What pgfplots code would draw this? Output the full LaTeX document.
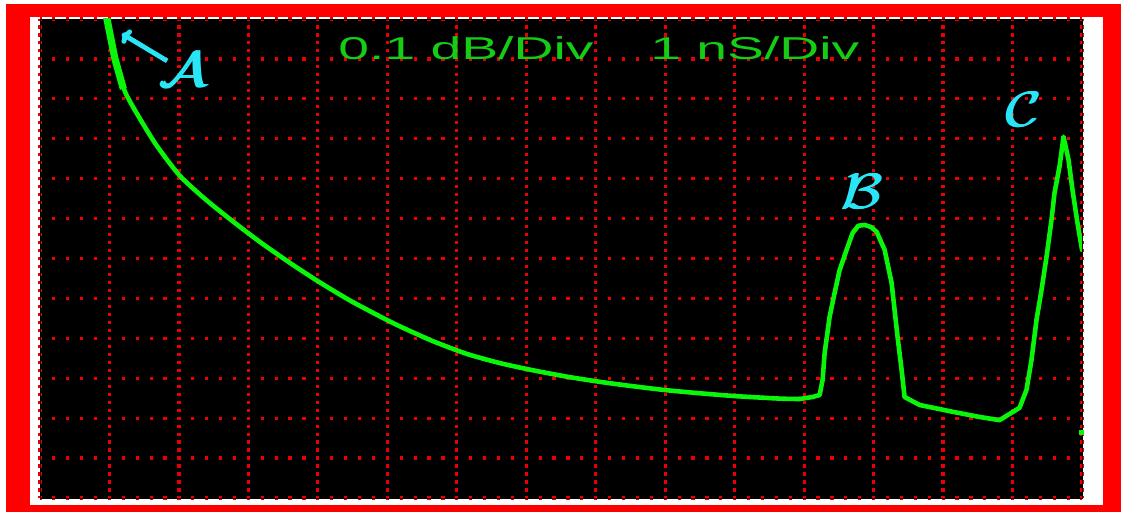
\documentclass[border=0pt]{standalone}
\usepackage{fontspec}
\setmainfont{Liberation Sans}
\usepackage{graphicx}
\usepackage{pgfplots}
\pgfplotsset{compat=1.18}
\usetikzlibrary{arrows.meta}
\definecolor{curvegreen}{RGB}{10,245,10}
\definecolor{textgreen}{RGB}{20,205,20}
\definecolor{labelcyan}{RGB}{40,230,245}
\definecolor{griddot}{RGB}{235,0,0}
\definecolor{framered}{RGB}{255,0,0}
\newcommand{\wide}[1]{\scalebox{1.75}[1]{#1}}
\newcommand{\fat}[1]{\scalebox{1.2}[1]{\rlap{#1}\kern0.45pt\rlap{#1}\kern0.45pt#1}}
\begin{document}
\begin{tikzpicture}
\fill[white] (-20pt,-7pt) rectangle (540.5pt,249pt);
\fill[framered] (-17pt,-7pt) rectangle (540.5pt,247pt);
\fill[white] (-5pt,-3.5pt) rectangle (531.5pt,240.5pt);
\begin{axis}[
  at={(0pt,0pt)}, anchor=south west,
  scale only axis, width=521pt, height=239.5pt,
  xmin=0, xmax=15, ymin=0, ymax=12,
  xtick={0,...,15}, ytick={0,...,12},
  xticklabels={}, yticklabels={},
  major tick length=0pt,
  axis line style={color=black},
  grid=major,
  x grid style={color=griddot, line width=1.6pt, dash pattern=on 0.8pt off 2.392pt on 0.8pt off 0pt},
  y grid style={color=griddot, line width=1.6pt, dash pattern=on 0.8pt off 5.347pt on 0.8pt off 0pt},
  axis background/.style={fill=black},
]
\addplot[color=curvegreen, line width=2.3pt, line join=round, line cap=round, mark=none, smooth, tension=0.4] coordinates {
(0.94,12.3)(0.964,12.0)(1.079,11.00)(1.223,10.18)(1.439,9.50)(1.683,8.82)
(2.014,8.07)(2.403,7.45)(2.835,6.85)(3.209,6.36)(3.640,5.84)(4.029,5.40)
(4.460,4.95)(4.892,4.55)(5.180,4.30)(5.655,3.93)(6.144,3.61)(6.619,3.38)
(7.094,3.20)(7.583,3.04)(8.058,2.91)(8.489,2.81)(8.964,2.71)(9.453,2.63)
(10.029,2.55)(10.647,2.49)(10.935,2.48)
};
\addplot[color=curvegreen, line width=2.3pt, line join=round, line cap=round, mark=none] coordinates {
(10.935,2.48)(11.122,2.53)(11.223,2.58)(11.266,2.96)
(11.295,3.63)(11.367,4.54)(11.439,5.14)(11.511,5.71)(11.612,6.22)(11.698,6.64)
(11.78,6.82)(11.871,6.84)(11.96,6.79)(12.043,6.67)(12.158,6.22)(12.259,5.39)(12.302,4.71)(12.345,4.04)
(12.403,3.21)(12.446,2.53)(12.662,2.33)(13.137,2.16)(13.525,2.03)(13.813,1.95)
(14.101,2.26)(14.201,2.71)(14.273,3.46)(14.345,4.46)(14.417,5.21)(14.489,6.04)
(14.561,6.97)(14.604,7.64)(14.676,8.30)(14.734,9.05)(14.806,8.47)(14.863,7.72)
(14.935,6.89)(15.0,6.22)
};
\addplot[color=curvegreen, line width=3.6pt, line join=round, mark=none] coordinates {
(0.94,12.3)(0.964,12.0)(1.079,11.00)(1.20,10.25)
};
\addplot[color=curvegreen, only marks, mark=square*, mark size=1.1pt] coordinates {(14.99,1.65)};
\node[anchor=base west, inner sep=0pt, text=textgreen, font=\fontsize{15.8}{18}\selectfont] at (axis cs:4.29,10.98) {\wide{0.1 dB/Div}};
\node[anchor=base west, inner sep=0pt, text=textgreen, font=\fontsize{15.8}{18}\selectfont] at (axis cs:8.78,10.98) {\wide{1 nS/Div}};
\node[text=labelcyan, inner sep=0pt, font=\fontsize{25}{30}\selectfont] at (axis cs:2.07,10.73) {\fat{$\mathcal{A}$}};
\node[text=labelcyan, inner sep=0pt, font=\fontsize{25}{30}\selectfont] at (axis cs:11.83,7.67) {\fat{$\mathcal{B}$}};
\node[text=labelcyan, inner sep=0pt, font=\fontsize{25}{30}\selectfont] at (axis cs:14.17,9.72) {\fat{$\mathcal{C}$}};
\draw[color=labelcyan, line width=2.4pt, -{To[length=4pt,width=8pt]}] (axis cs:1.83,10.95) -- (axis cs:1.18,11.63);
\end{axis}
\end{tikzpicture}
\end{document}
